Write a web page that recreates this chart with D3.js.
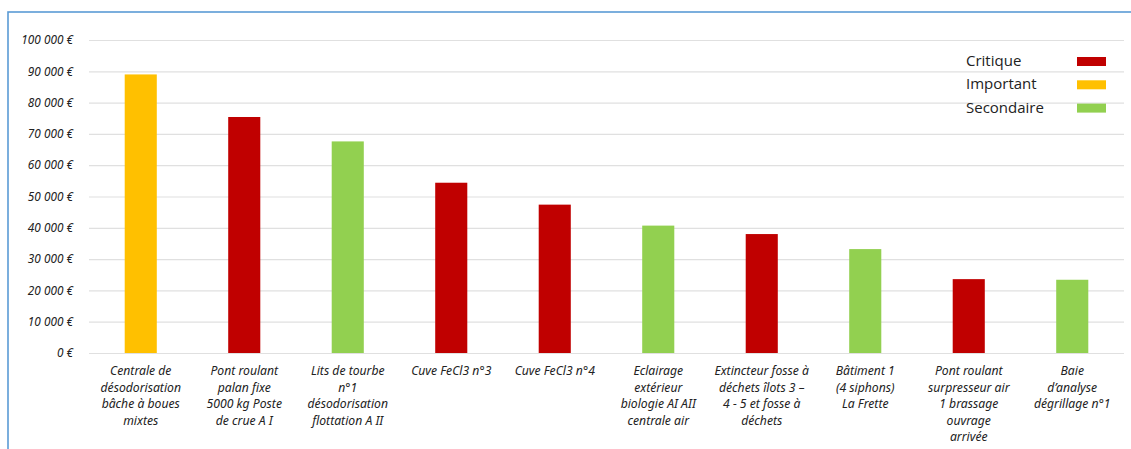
<!DOCTYPE html>
<html>
<head>
<meta charset="utf-8">
<script src="https://cdn.jsdelivr.net/npm/d3@7"></script>
<style>
  body { margin: 0; background: #fff; }
  .tick text { font-family: "Noto Sans", sans-serif; font-style: italic; }
</style>
</head>
<body>
<div id="chart"></div>
<script>
// data
const categories = [
  "Centrale de\ndésodorisation\nbâche à boues\nmixtes",
  "Pont roulant\npalan fixe\n5000 kg Poste\nde crue A I",
  "Lits de tourbe\nn°1\ndésodorisation\nflottation A II",
  "Cuve FeCl3 n°3",
  "Cuve FeCl3 n°4",
  "Eclairage\nextérieur\nbiologie AI AII\ncentrale air",
  "Extincteur fosse à\ndéchets îlots 3 –\n4 - 5 et fosse à\ndéchets",
  "Bâtiment 1\n(4 siphons)\nLa Frette",
  "Pont roulant\nsurpresseur air\n1 brassage\nouvrage\narrivée",
  "Baie\nd’analyse\ndégrillage n°1"
];
const costs = [89000, 75400, 67600, 54400, 47400, 40700, 38000, 33200, 23600, 23400];
const levels = ["Important", "Critique", "Secondaire", "Critique", "Critique",
                "Secondaire", "Critique", "Secondaire", "Critique", "Secondaire"];
const legendLabels = ["Critique", "Important", "Secondaire"];
const yTicks = [0, 10000, 20000, 30000, 40000, 50000, 60000, 70000, 80000, 90000, 100000];

const levelColor = d3.scaleOrdinal()
  .domain(["Critique", "Important", "Secondaire"])
  .range(["#C00000", "#FFC000", "#92D050"]);

const width = 1131, height = 449;
const margin = {top: 40, right: 7, bottom: 96, left: 89};

const svg = d3.select("#chart").append("svg")
  .attr("width", width)
  .attr("height", height);

// chart frame (blue border, runs off right/bottom)
svg.append("rect")
  .attr("x", 8).attr("y", 12)
  .attr("width", width + 20).attr("height", height + 20)
  .attr("fill", "none")
  .attr("stroke", "#5B9BD5")
  .attr("stroke-width", 1.6);

const x = d3.scaleBand()
  .domain(d3.range(categories.length))
  .range([margin.left, width - margin.right])
  .paddingInner(0.69)
  .paddingOuter(0.345);

const y = d3.scaleLinear()
  .domain([0, 100000])
  .range([height - margin.bottom, margin.top]);

const fmt = v => d3.format(",")(v).replace(/,/g, " ") + " €";

// gridlines + y labels
const yAxis = svg.append("g")
  .attr("transform", `translate(${margin.left},0)`)
  .call(d3.axisLeft(y).tickValues(yTicks).tickFormat(fmt)
    .tickSize(-(width - margin.right - margin.left)).tickPadding(16));
yAxis.select(".domain").remove();
yAxis.selectAll(".tick line").attr("stroke", "#e0e0e0").attr("stroke-width", 1.2);
yAxis.selectAll(".tick text").attr("font-size", 11.8).attr("fill", "#222");

// bars
svg.append("g")
  .selectAll("rect")
  .data(costs)
  .join("rect")
  .attr("x", (d, i) => x(i))
  .attr("y", d => y(d))
  .attr("width", x.bandwidth())
  .attr("height", d => y(0) - y(d))
  .attr("fill", (d, i) => levelColor(levels[i]));

// x labels
const xLabels = svg.append("g")
  .selectAll("text")
  .data(categories)
  .join("text")
  .attr("x", (d, i) => x(i) + x.bandwidth() / 2)
  .attr("y", y(0) + 22)
  .attr("text-anchor", "middle")
  .attr("font-family", "Noto Sans, sans-serif")
  .attr("font-style", "italic")
  .attr("font-size", 12.2)
  .attr("fill", "#222");
xLabels.each(function(d) {
  const t = d3.select(this);
  d.split("\n").forEach((line, k) => {
    t.append("tspan")
      .attr("x", t.attr("x"))
      .attr("dy", k === 0 ? 0 : 16.5)
      .text(line);
  });
});

// legend
const legend = svg.append("g")
  .selectAll("g")
  .data(legendLabels)
  .join("g")
  .attr("transform", (d, i) => `translate(966, ${61 + i * 23.3})`);
legend.append("text")
  .attr("y", 5)
  .attr("font-family", "Open Sans, sans-serif")
  .attr("font-size", 15)
  .attr("fill", "#222")
  .text(d => d);
legend.append("rect")
  .attr("x", 111).attr("y", -4)
  .attr("width", 29).attr("height", 9)
  .attr("fill", d => levelColor(d));
</script>
</body>
</html>
